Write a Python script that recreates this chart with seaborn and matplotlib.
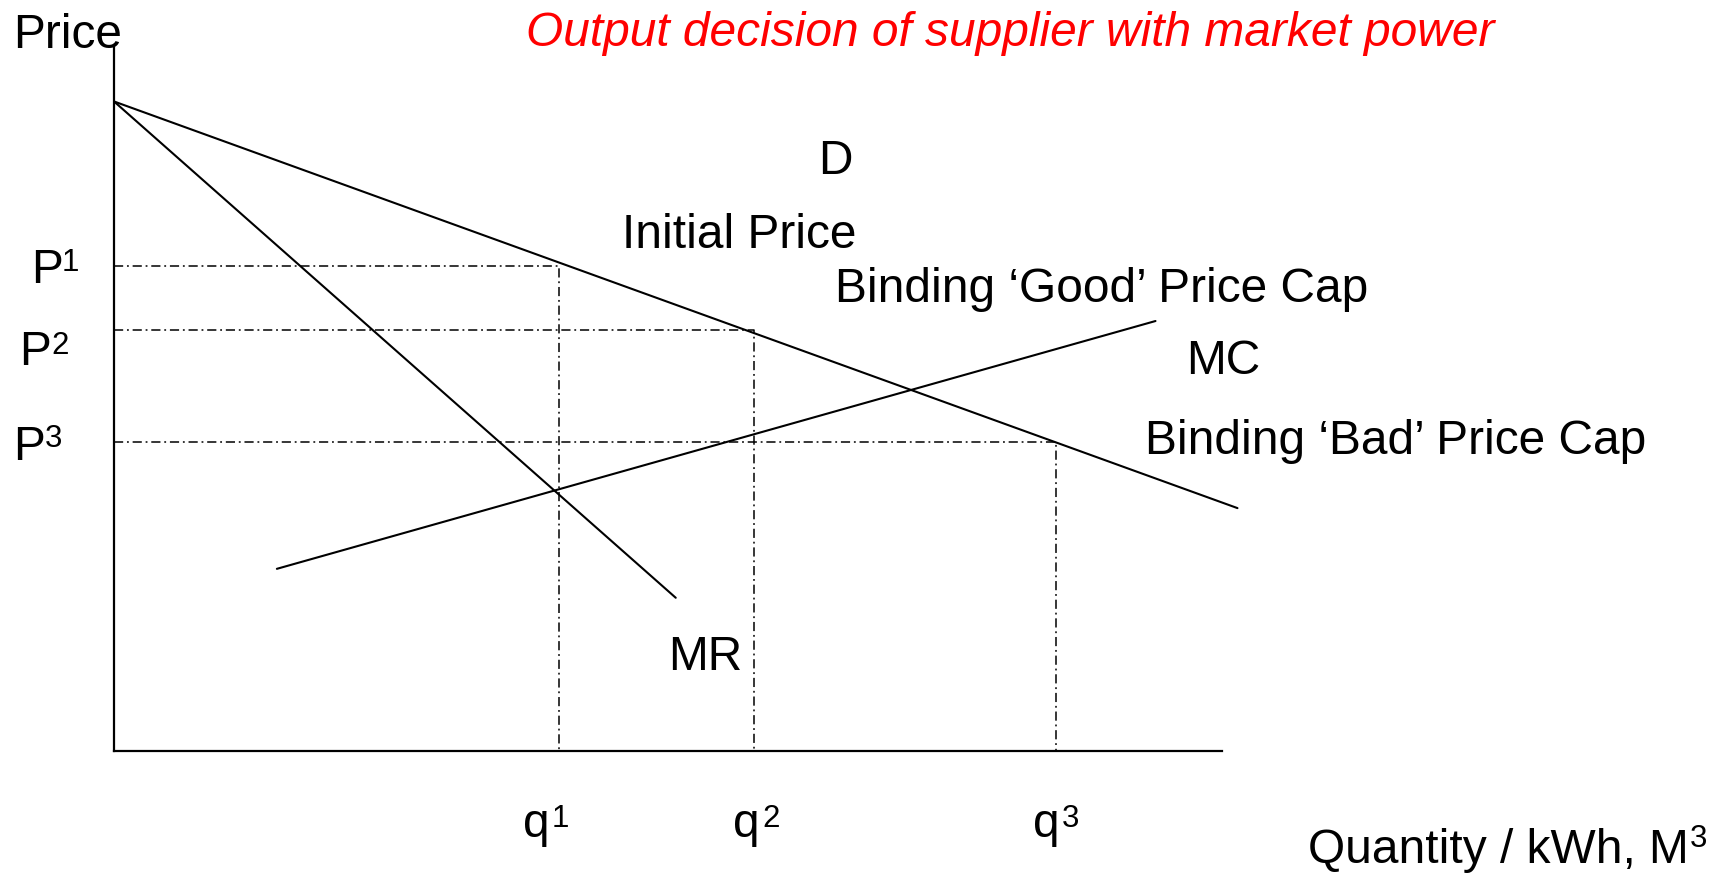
import matplotlib
matplotlib.use('Agg')
import matplotlib.pyplot as plt
import seaborn as sns

# curve end points (quantity, price)
demand_q = [0.0, 101.4]
demand_p = [92.0, 34.4]
mr_q = [0.0, 50.7]
mr_p = [92.0, 21.7]
mc_q = [14.7, 94.0]
mc_p = [25.8, 60.9]

quantities = [40.2, 57.8, 85.0]       # q1, q2, q3
prices = [68.7, 59.6, 43.8]           # P1, P2, P3
sup_digits = ['1', '2', '3']

W, H = 1718, 877
FS = 34.5
FS_SUP = 22.5


def fx(px):
    return px / W


def fy(py):
    return 1 - py / H


sns.set_theme(style='white')
plt.rcParams['font.family'] = ['Liberation Sans', 'DejaVu Sans']

fig = plt.figure(figsize=(W / 100, H / 100), dpi=100)
ax = fig.add_axes([0, 0, 1, 1])
ax.set_xlim(-10.29, 144.77)
ax.set_ylim(-17.85, 106.37)

for s in ['top', 'right']:
    ax.spines[s].set_visible(False)
ax.spines['left'].set_position(('data', 0))
ax.spines['bottom'].set_position(('data', 0))
ax.spines['left'].set_bounds(0, 100)
ax.spines['bottom'].set_bounds(0, 100)
for s in ['left', 'bottom']:
    ax.spines[s].set_color('black')
    ax.spines[s].set_linewidth(1.6)
ax.set_xticks([])
ax.set_yticks([])

# dash-dot guides: P -> curve -> q
dashdot = (0, (6, 2.5, 1.2, 2.5))
for q, p in zip(quantities, prices):
    sns.lineplot(x=[0, q, q], y=[p, p, 0], ax=ax, color='black', lw=1.1,
                 linestyle=dashdot, sort=False, estimator=None)

for xs, ys in [(demand_q, demand_p), (mr_q, mr_p), (mc_q, mc_p)]:
    sns.lineplot(x=xs, y=ys, ax=ax, color='black', lw=1.5, sort=False, estimator=None)

txt = dict(fontsize=FS, color='black', va='center')
fig.text(fx(13), fy(36), 'Price', ha='left', **txt)
fig.text(fx(526), fy(34), 'Output decision of supplier with market power',
         ha='left', va='center', fontsize=FS, color='#FF0000', style='italic')
fig.text(fx(835), fy(161), 'D', ha='center', **txt)
fig.text(fx(622), fy(236), 'Initial Price', ha='left', **txt)
fig.text(fx(835), fy(290), 'Binding ‘Good’ Price Cap', ha='left', **txt)
fig.text(fx(1186), fy(362), 'MC', ha='left', **txt)
fig.text(fx(1145), fy(441), 'Binding ‘Bad’ Price Cap', ha='left', **txt)
fig.text(fx(668), fy(658), 'MR', ha='left', **txt)


def sup_label(base, sup, x, base_y, sup_x, sup_y):
    fig.text(fx(x), fy(base_y), base, ha='left', va='baseline', fontsize=FS, color='black')
    fig.text(fx(sup_x), fy(sup_y), sup, ha='left', va='baseline', fontsize=FS_SUP, color='black')


# price labels P1..P3
for d, x, by, sx, sy in zip(sup_digits, [31, 19, 13], [283, 365, 460],
                            [62, 51.5, 45], [271, 354, 447]):
    sup_label('P', d, x, by, sx, sy)

# quantity labels q1..q3
for d, x in zip(sup_digits, [523, 733, 1033]):
    sup_label('q', d, x, 837, x + 29, 827)

sup_label('Quantity / kWh, M', '3', 1307.5, 863, 1689.5, 847)

fig.savefig('out.png', dpi=100, facecolor='white')
